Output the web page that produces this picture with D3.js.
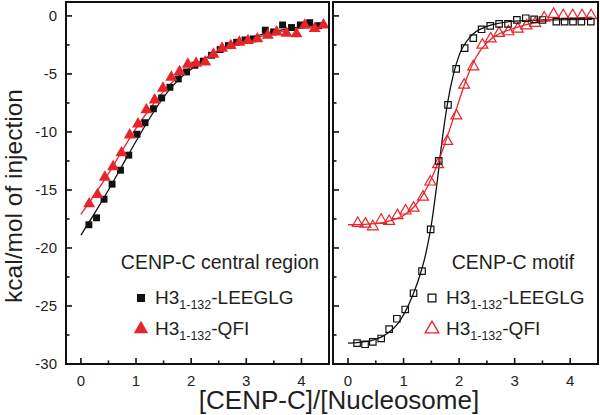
<!DOCTYPE html>
<html><head><meta charset="utf-8">
<script src="https://cdn.jsdelivr.net/npm/d3@7"></script>
<style>body{margin:0;background:#fff}svg{display:block}text{font-family:"Liberation Sans",Arial,sans-serif;fill:#231f20}</style>
</head><body><svg id="c" width="600" height="415"></svg>
<script>
// ---- data ----
const xTicks = [0,1,2,3,4];
const yTicks = [0,-5,-10,-15,-20,-25,-30];

// Left panel: CENP-C central region
const leftBlackX = [0.145,0.284,0.42,0.566,0.718,0.868,1.018,1.163,1.315,1.465,1.615,1.767,1.917,2.067,2.22,2.37,2.526,2.676,2.826,2.978,3.128,3.345,3.495,3.658,3.82,3.98,4.15,4.31];
const leftBlackY = [-18.0,-17.4,-15.8,-14.5,-13.3,-12.0,-10.2,-9.2,-8.0,-7.07,-6.15,-5.43,-4.83,-4.25,-3.9,-3.39,-2.9,-2.56,-2.27,-2.07,-1.98,-1.23,-1.38,-0.78,-1.0,-0.78,-0.58,-0.84];
const leftRedX = [0.15,0.30,0.434,0.584,0.736,0.886,1.036,1.188,1.338,1.488,1.64,1.79,1.94,2.09,2.255,2.405,2.56,2.718,2.875,3.03,3.2,3.39,3.55,3.73,3.91,4.06,4.24,4.4];
const leftRedY = [-16.2,-15.4,-13.9,-13.0,-11.8,-10.26,-9.31,-8.1,-7.24,-6.23,-5.28,-4.8,-4.16,-4.08,-3.97,-3.3,-2.78,-2.56,-2.27,-2.13,-1.98,-1.66,-1.38,-1.49,-1.55,-0.8,-1.09,-0.78];
const leftBlackFitX = [0,0.25,0.5,0.75,1.0,1.25,1.5,1.75,2.0,2.5,3.0,3.5,4.0,4.4];
const leftBlackFitY = [-18.9,-17.0,-15.0,-12.9,-10.8,-8.8,-7.0,-5.6,-4.6,-3.0,-2.0,-1.35,-0.95,-0.75];
const leftRedFitX = [0,0.25,0.5,0.75,1.0,1.25,1.5,1.75,2.0,2.5,3.0,3.5,4.0,4.4];
const leftRedFitY = [-17.1,-15.4,-13.6,-11.6,-9.7,-8.0,-6.5,-5.3,-4.4,-3.0,-2.1,-1.5,-1.05,-0.85];

// Right panel: CENP-C motif
const rightBlackX = [0.163,0.307,0.447,0.597,0.741,0.88,1.03,1.18,1.333,1.488,1.633,1.80,1.947,2.10,2.255,2.405,2.56,2.72,2.88,3.04,3.2,3.35,3.5,3.75,3.9,4.05,4.2,4.37];
const rightBlackY = [-28.2,-28.3,-28.1,-27.8,-27.0,-26.1,-25.3,-23.9,-22.0,-18.4,-12.5,-7.67,-4.57,-2.78,-1.92,-1.15,-0.86,-0.69,-0.69,-0.34,-0.2,-0.3,-0.35,-0.49,-0.49,-0.49,-0.49,-0.49];
const rightRedX = [0.175,0.313,0.447,0.597,0.741,0.89,1.036,1.18,1.35,1.483,1.62,1.785,1.95,2.09,2.255,2.418,2.568,2.718,2.888,3.056,3.213,3.369,3.532,3.70,3.875,4.045,4.213,4.376];
const rightRedY = [-17.87,-17.93,-18.16,-17.6,-17.7,-17.2,-16.8,-16.55,-15.6,-14.3,-12.8,-10.8,-8.6,-5.95,-4.37,-2.5,-1.96,-1.49,-1.35,-1.12,-0.84,-0.63,-0.17,0.15,0.03,0.03,0.03,0.03];
const rightBlackFitX = [0,0.4,0.7,0.9,1.1,1.25,1.4,1.5,1.6,1.7,1.8,1.9,2.0,2.2,2.5,3.0,3.5,4.4];
const rightBlackFitY = [-28.2,-28.0,-27.4,-26.5,-24.8,-23.0,-20.5,-18.0,-14.5,-10.5,-7.3,-5.0,-3.4,-1.8,-0.9,-0.45,-0.35,-0.3];
const rightRedFitX = [0,0.5,0.8,1.0,1.2,1.4,1.55,1.7,1.85,2.0,2.15,2.3,2.5,2.7,3.0,3.3,3.6,4.0,4.4];
const rightRedFitY = [-18.0,-17.9,-17.6,-17.2,-16.4,-15.0,-13.5,-11.6,-9.5,-7.3,-5.2,-3.6,-2.3,-1.6,-1.05,-0.65,-0.35,-0.2,-0.1];

// ---- drawing ----
const svg = d3.select("#c");
const RED = "#e8242b", BLK = "#111";
const zip = (xs, ys) => xs.map((x,i)=>[x, ys[i]]);

const y = d3.scaleLinear().domain([-30, 1.2]).range([364, 2]);

function panel(x0, x1, cfg, idx){
  const x = d3.scaleLinear().domain([-0.27, 4.5]).range([x0, x1]);
  const g = svg.append("g");
  const cid = "clip"+idx;
  svg.append("clipPath").attr("id", cid).append("rect")
    .attr("x", x0).attr("y", 2).attr("width", x1-x0).attr("height", 362);
  const line = d3.line().x(d=>x(d[0])).y(d=>y(d[1])).curve(d3.curveMonotoneX);
  const pg = g.append("g").attr("clip-path", `url(#${cid})`);
  pg.append("path").datum(cfg.blackFit).attr("d", line).attr("fill","none").attr("stroke",BLK).attr("stroke-width",1.3);
  pg.append("path").datum(cfg.redFit).attr("d", line).attr("fill","none").attr("stroke",RED).attr("stroke-width",1.3);
  const sq = d3.symbol().type(d3.symbolSquare).size(cfg.open?42:48);
  const tr = d3.symbol().type(d3.symbolTriangle).size(cfg.open?52:62);
  if (cfg.open) {
    pg.selectAll(".r").data(cfg.red).join("path").attr("d", tr)
      .attr("transform", d=>`translate(${x(d[0])},${y(d[1])})`)
      .attr("fill","none").attr("stroke",RED).attr("stroke-width",1.2);
    pg.selectAll(".b").data(cfg.black).join("path").attr("d", sq)
      .attr("transform", d=>`translate(${x(d[0])},${y(d[1])})`)
      .attr("fill","none").attr("stroke",BLK).attr("stroke-width",1.2);
  } else {
    pg.selectAll(".b").data(cfg.black).join("path").attr("d", sq)
      .attr("transform", d=>`translate(${x(d[0])},${y(d[1])})`)
      .attr("fill",BLK);
    pg.selectAll(".r").data(cfg.red).join("path").attr("d", tr)
      .attr("transform", d=>`translate(${x(d[0])},${y(d[1])})`)
      .attr("fill",RED);
  }
  // frame
  g.append("rect").attr("x", x0).attr("y", 2).attr("width", x1-x0).attr("height", 362)
    .attr("fill","none").attr("stroke","#111").attr("stroke-width",2);
  // x ticks inward
  const minorX = d3.range(0, 4.51, 0.5);
  g.selectAll(".xt").data(minorX).join("line")
    .attr("x1", d=>x(d)).attr("x2", d=>x(d))
    .attr("y1", 364).attr("y2", d=> 364 - (Number.isInteger(d)?6:3.5))
    .attr("stroke","#111").attr("stroke-width",1.6);
  g.selectAll(".xl").data(xTicks).join("text")
    .attr("x", d=>x(d)).attr("y", 386).attr("text-anchor","middle")
    .attr("font-size", 15).text(d=>d);
  // y ticks inward
  const minorY = d3.range(0, -30.01, -2.5);
  g.selectAll(".yt").data(minorY).join("line")
    .attr("x1", x0).attr("x2", d=> x0 + (d%5===0?6:3.5))
    .attr("y1", d=>y(d)).attr("y2", d=>y(d))
    .attr("stroke","#111").attr("stroke-width",1.6);
  if (cfg.yLabels) {
    g.selectAll(".yl").data(yTicks).join("text")
      .attr("x", x0-9).attr("y", d=>y(d)+5).attr("text-anchor","end")
      .attr("font-size", 15).text(d=>d);
  }
  // annotation
  g.append("text").attr("x", cfg.titleX).attr("y", 269).attr("text-anchor","middle")
    .attr("font-size", 19.5).text(cfg.title);
  // legend
  const lx = cfg.legX;
  const legSq = d3.symbol().type(d3.symbolSquare).size(cfg.open?60:64);
  const legTr = d3.symbol().type(d3.symbolTriangle).size(cfg.open?80:90);
  const s1 = g.append("path").attr("d", legSq).attr("transform", `translate(${lx},298)`);
  const s2 = g.append("path").attr("d", legTr).attr("transform", `translate(${lx},329)`);
  if (cfg.open) {
    s1.attr("fill","none").attr("stroke",BLK).attr("stroke-width",1.3);
    s2.attr("fill","none").attr("stroke",RED).attr("stroke-width",1.3);
  } else { s1.attr("fill",BLK); s2.attr("fill",RED); }
  [["-LEEGLG",304],["-QFI",335]].forEach(([suf,by])=>{
    const t = g.append("text").attr("x", lx+14).attr("y", by).attr("font-size", 19);
    t.append("tspan").text("H3");
    t.append("tspan").attr("font-size", 12.5).attr("dy", 5).text("1-132");
    t.append("tspan").attr("dy", -5).text(suf);
  });
}

panel(66, 329, {
  black: zip(leftBlackX, leftBlackY), red: zip(leftRedX, leftRedY),
  blackFit: zip(leftBlackFitX, leftBlackFitY), redFit: zip(leftRedFitX, leftRedFitY),
  open:false, yLabels:true, title:"CENP-C central region", titleX:220, legX:141
}, 0);
panel(333, 598, {
  black: zip(rightBlackX, rightBlackY), red: zip(rightRedX, rightRedY),
  blackFit: zip(rightBlackFitX, rightBlackFitY), redFit: zip(rightRedFitX, rightRedFitY),
  open:true, yLabels:false, title:"CENP-C motif", titleX:513, legX:432
}, 1);

svg.append("text").attr("x", 339).attr("y", 409).attr("text-anchor","middle")
  .attr("font-size", 26).text("[CENP-C]/[Nucleosome]");
svg.append("text").attr("transform","translate(22,196) rotate(-90)").attr("text-anchor","middle")
  .attr("font-size", 24.5).text("kcal/mol of injection");
</script></body></html>
